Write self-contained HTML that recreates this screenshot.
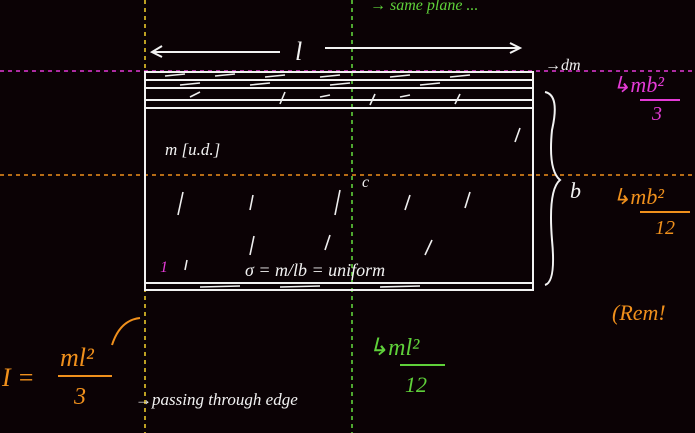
<!DOCTYPE html>
<html><head><meta charset="utf-8"><style>
html,body{margin:0;padding:0;background:#0b0205;}
svg{display:block}
text{font-family:"Liberation Serif",serif;font-style:italic}
</style></head><body>
<svg width="695" height="433" viewBox="0 0 695 433">
<rect width="695" height="433" fill="#0b0205"/>
<line x1="0" y1="71" x2="695" y2="71" stroke="#e43bd6" stroke-width="1.6" stroke-dasharray="4,4"/>
<line x1="0" y1="175" x2="695" y2="175" stroke="#f0901c" stroke-width="1.6" stroke-dasharray="4,4"/>
<line x1="145" y1="0" x2="145" y2="433" stroke="#e9c72a" stroke-width="1.6" stroke-dasharray="4,4"/>
<line x1="352" y1="0" x2="352" y2="433" stroke="#5fd13a" stroke-width="1.6" stroke-dasharray="4,4"/>
<g stroke="#f2f2f2" stroke-width="2" fill="none">
<rect x="145" y="72" width="388" height="218"/>
<line x1="145" y1="80" x2="533" y2="80"/>
<line x1="145" y1="88" x2="533" y2="88"/>
<line x1="145" y1="100" x2="533" y2="100"/>
<line x1="145" y1="108" x2="533" y2="108"/>
<line x1="145" y1="283" x2="533" y2="283"/>
</g>
<g stroke="#eeeeee" stroke-width="1.6">
<line x1="165" y1="76" x2="185" y2="74"/><line x1="215" y1="76" x2="235" y2="74"/><line x1="265" y1="77" x2="285" y2="75"/><line x1="320" y1="77" x2="340" y2="75"/><line x1="390" y1="77" x2="410" y2="75"/><line x1="450" y1="77" x2="470" y2="75"/>
<line x1="180" y1="85" x2="200" y2="83"/><line x1="250" y1="85" x2="270" y2="83"/><line x1="330" y1="85" x2="350" y2="83"/><line x1="420" y1="85" x2="440" y2="83"/>
<line x1="190" y1="97" x2="200" y2="92"/><line x1="280" y1="104" x2="285" y2="92"/><line x1="320" y1="97" x2="330" y2="95"/><line x1="370" y1="105" x2="375" y2="94"/><line x1="400" y1="97" x2="410" y2="95"/><line x1="455" y1="104" x2="460" y2="94"/>
<line x1="515" y1="142" x2="520" y2="128"/><line x1="178" y1="215" x2="183" y2="192"/><line x1="250" y1="210" x2="253" y2="195"/><line x1="335" y1="215" x2="340" y2="190"/><line x1="405" y1="210" x2="410" y2="195"/><line x1="465" y1="208" x2="470" y2="192"/>
<line x1="250" y1="255" x2="254" y2="236"/><line x1="325" y1="250" x2="330" y2="235"/><line x1="425" y1="255" x2="432" y2="240"/><line x1="185" y1="270" x2="187" y2="260"/>
<line x1="200" y1="287" x2="240" y2="286"/><line x1="280" y1="287" x2="320" y2="286"/><line x1="380" y1="287" x2="420" y2="286"/>
</g>
<g stroke="#f2f2f2" stroke-width="2" fill="none">
<line x1="152" y1="52" x2="280" y2="52"/><polyline points="162,46 152,52 162,57"/>
<line x1="325" y1="48" x2="520" y2="48"/><polyline points="510,43 520,48 510,53"/>
</g>
<text x="295" y="60" fill="#f2f2f2" font-size="26">l</text>
<text x="165" y="155" fill="#f2f2f2" font-size="17">m [u.d.]</text>
<text x="362" y="187" fill="#f2f2f2" font-size="16">c</text>
<text x="245" y="276" fill="#f2f2f2" font-size="18">σ = m/lb = uniform</text>
<text x="160" y="272" fill="#e43bd6" font-size="16">1</text>
<path d="M545 92 Q560 95 552 130 Q548 170 560 180 Q548 190 552 240 Q556 282 545 285" stroke="#f2f2f2" stroke-width="2" fill="none"/>
<text x="570" y="198" fill="#f2f2f2" font-size="22">b</text>
<text x="545" y="70" fill="#f2f2f2" font-size="16">→dm</text>
<text x="612" y="92" fill="#e43bd6" font-size="22">↳mb²</text>
<line x1="640" y1="100" x2="680" y2="100" stroke="#e43bd6" stroke-width="2"/>
<text x="652" y="120" fill="#e43bd6" font-size="20">3</text>
<text x="612" y="204" fill="#f0901c" font-size="22">↳mb²</text>
<line x1="640" y1="212" x2="690" y2="212" stroke="#f0901c" stroke-width="2"/>
<text x="655" y="234" fill="#f0901c" font-size="20">12</text>
<text x="612" y="320" fill="#f0901c" font-size="22">(Rem!</text>
<text x="370" y="10" fill="#5fd13a" font-size="16">→ same plane ...</text>
<text x="368" y="355" fill="#5fd13a" font-size="24">↳ml²</text>
<line x1="400" y1="365" x2="445" y2="365" stroke="#5fd13a" stroke-width="2"/>
<text x="405" y="392" fill="#5fd13a" font-size="22">12</text>
<text x="2" y="386" fill="#f0901c" font-size="26">I =</text>
<text x="60" y="366" fill="#f0901c" font-size="26">ml²</text>
<line x1="58" y1="376" x2="112" y2="376" stroke="#f0901c" stroke-width="2"/>
<text x="74" y="404" fill="#f0901c" font-size="24">3</text>
<path d="M112 345 Q120 320 140 318" stroke="#f0901c" stroke-width="2" fill="none"/>
<text x="135" y="405" fill="#f2f2f2" font-size="17">→passing through edge</text>
</svg>
</body></html>
